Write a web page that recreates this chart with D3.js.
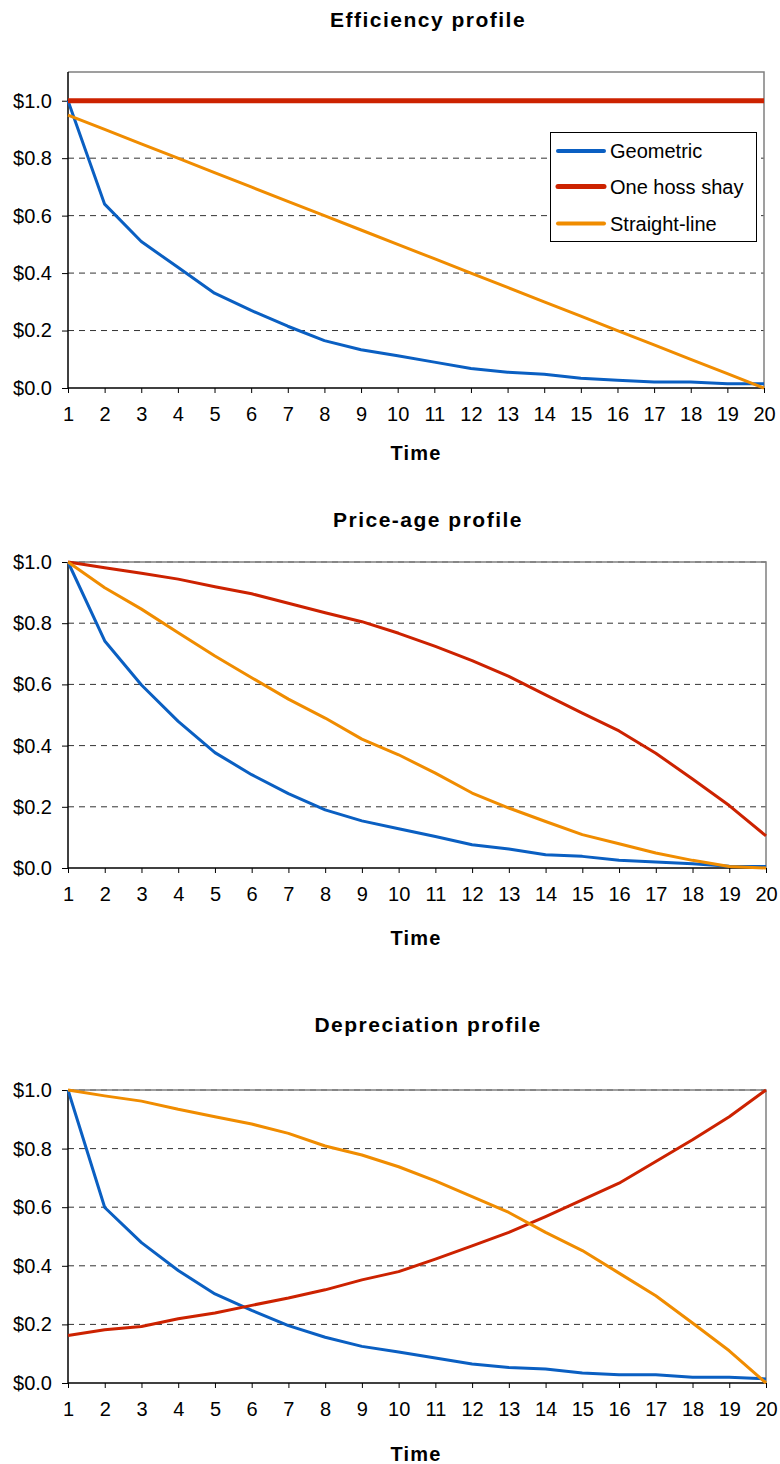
<!DOCTYPE html>
<html>
<head>
<meta charset="utf-8">
<script src="https://cdn.jsdelivr.net/npm/d3@7"></script>
<style>
  html, body { margin: 0; padding: 0; background: #fff; }
  svg { display: block; font-family: "Liberation Sans", Arial, sans-serif; }
</style>
</head>
<body>
<svg id="chart" width="780" height="1464"></svg>
<script>
// Asset age (years)
const times = [1, 2, 3, 4, 5, 6, 7, 8, 9, 10, 11, 12, 13, 14, 15, 16, 17, 18, 19, 20];

const seriesNames = ["Geometric", "One hoss shay", "Straight-line"];
const seriesColors = ["#0a5fc2", "#cc2200", "#f08c00"];

const yTicks = [0, 0.2, 0.4, 0.6, 0.8, 1.0];

// Efficiency profile
const efficiencyGeometric = [1.00, 0.64, 0.51, 0.42, 0.33, 0.27, 0.215, 0.165, 0.133, 0.112, 0.09, 0.068, 0.055, 0.048, 0.034, 0.027, 0.021, 0.021, 0.015, 0.015];
const efficiencyHossShay  = [1, 1, 1, 1, 1, 1, 1, 1, 1, 1, 1, 1, 1, 1, 1, 1, 1, 1, 1, 1];
const efficiencyStraight  = [0.95, 0.90, 0.85, 0.80, 0.75, 0.70, 0.65, 0.60, 0.55, 0.50, 0.45, 0.40, 0.35, 0.30, 0.25, 0.20, 0.15, 0.10, 0.05, 0.00];

// Price-age profile
const priceGeometric = [1.00, 0.742, 0.598, 0.479, 0.377, 0.305, 0.243, 0.190, 0.154, 0.128, 0.103, 0.076, 0.062, 0.043, 0.038, 0.025, 0.020, 0.014, 0.006, 0.005];
const priceHossShay  = [1.00, 0.981, 0.963, 0.944, 0.919, 0.896, 0.865, 0.834, 0.805, 0.767, 0.724, 0.678, 0.626, 0.566, 0.506, 0.448, 0.375, 0.291, 0.204, 0.105];
const priceStraight  = [1.00, 0.916, 0.846, 0.769, 0.693, 0.622, 0.552, 0.490, 0.421, 0.370, 0.310, 0.245, 0.196, 0.152, 0.109, 0.079, 0.049, 0.025, 0.005, 0.000];

// Depreciation profile
const deprGeometric = [1.00, 0.599, 0.479, 0.384, 0.304, 0.248, 0.196, 0.156, 0.125, 0.106, 0.085, 0.065, 0.053, 0.048, 0.034, 0.028, 0.028, 0.020, 0.020, 0.014];
const deprHossShay  = [0.162, 0.182, 0.193, 0.219, 0.239, 0.265, 0.290, 0.318, 0.352, 0.380, 0.423, 0.468, 0.514, 0.568, 0.625, 0.682, 0.756, 0.830, 0.909, 1.00];
const deprStraight  = [1.00, 0.980, 0.962, 0.934, 0.909, 0.884, 0.852, 0.809, 0.778, 0.738, 0.690, 0.636, 0.582, 0.514, 0.452, 0.375, 0.298, 0.205, 0.110, 0.000];

const panels = [
  { title: "Efficiency profile", titleY: 27, top: 72, bottom: 388, right: 764, yMax: 1.1, timeY: 460,
    series: [efficiencyGeometric, efficiencyHossShay, efficiencyStraight], widths: [3, 5, 3], legend: true },
  { title: "Price-age profile", titleY: 527, top: 562, bottom: 868, right: 766, yMax: 1.0, timeY: 945,
    series: [priceGeometric, priceHossShay, priceStraight], widths: [3, 3, 3], legend: false },
  { title: "Depreciation profile", titleY: 1032, top: 1090, bottom: 1383, right: 766, yMax: 1.0, timeY: 1461,
    series: [deprGeometric, deprHossShay, deprStraight], widths: [3, 3, 3], legend: false }
];

const left = 68;
const svg = d3.select("#chart");
const fmt = v => "$" + d3.format(".1f")(v);

panels.forEach(p => {
  const g = svg.append("g");
  const x = d3.scaleLinear().domain([1, 20]).range([left, p.right]);
  const y = d3.scaleLinear().domain([0, p.yMax]).range([p.bottom, p.top]);

  // title
  g.append("text")
    .attr("x", 428).attr("y", p.titleY)
    .attr("text-anchor", "middle")
    .attr("font-size", 21).attr("font-weight", "bold")
    .attr("letter-spacing", 1.5)
    .text(p.title);

  // dashed gridlines
  g.append("g").selectAll("line").data(yTicks.filter(d => d > 0)).join("line")
    .attr("x1", left).attr("x2", p.right)
    .attr("y1", d => y(d)).attr("y2", d => y(d))
    .attr("stroke", "#333").attr("stroke-width", 1)
    .attr("stroke-dasharray", "6,5");

  // plot frame (top and right)
  g.append("path")
    .attr("d", `M${left},${p.top}H${p.right}V${p.bottom}`)
    .attr("fill", "none").attr("stroke", "#808080").attr("stroke-width", 1.5);

  // axes
  const yAxis = d3.axisLeft(y).tickValues(yTicks).tickFormat(fmt).tickSize(6).tickPadding(10);
  const yG = g.append("g").attr("transform", `translate(${left},0)`).call(yAxis);
  yG.select(".domain").attr("stroke", "#000").attr("stroke-width", 1.5).attr("d", `M0,${p.top}V${p.bottom}`);
  yG.selectAll(".tick line").attr("stroke", "#000");
  yG.selectAll(".tick text").attr("font-size", 20).attr("fill", "#000")
    .attr("font-family", "\"Liberation Sans\", Arial, sans-serif");

  const xAxis = d3.axisBottom(x).tickValues(times).tickFormat(d3.format("d")).tickSize(5).tickPadding(14);
  const xG = g.append("g").attr("transform", `translate(0,${p.bottom})`).call(xAxis);
  xG.select(".domain").attr("stroke", "#000").attr("stroke-width", 1.5).attr("d", `M${left},0H${p.right}`);
  xG.selectAll(".tick line").attr("stroke", "#000");
  xG.selectAll(".tick text").attr("font-size", 20).attr("fill", "#000")
    .attr("font-family", "\"Liberation Sans\", Arial, sans-serif");

  // axis label
  g.append("text")
    .attr("x", 416).attr("y", p.timeY)
    .attr("text-anchor", "middle")
    .attr("font-size", 20).attr("font-weight", "bold")
    .attr("letter-spacing", 1.2)
    .text("Time");

  // series lines
  const line = d3.line().x((d, i) => x(times[i])).y(d => y(d));
  p.series.forEach((vals, k) => {
    g.append("path")
      .datum(vals)
      .attr("d", line)
      .attr("fill", "none")
      .attr("stroke", seriesColors[k])
      .attr("stroke-width", p.widths[k])
      .attr("stroke-linejoin", "round");
  });

  // legend
  if (p.legend) {
    const lg = g.append("g");
    lg.append("rect")
      .attr("x", 550.5).attr("y", 132.5).attr("width", 206).attr("height", 109)
      .attr("fill", "#fff").attr("stroke", "#000").attr("stroke-width", 1);
    const rowY = [151, 186.5, 223.5];
    seriesNames.forEach((name, k) => {
      lg.append("line")
        .attr("x1", 558).attr("x2", 604)
        .attr("y1", rowY[k]).attr("y2", rowY[k])
        .attr("stroke", seriesColors[k])
        .attr("stroke-width", k === 1 ? 5 : 4)
        .attr("stroke-linecap", "round");
      lg.append("text")
        .attr("x", 610).attr("y", rowY[k])
        .attr("dy", "0.35em")
        .attr("font-size", 20)
        .text(name);
    });
  }
});
</script>
</body>
</html>
